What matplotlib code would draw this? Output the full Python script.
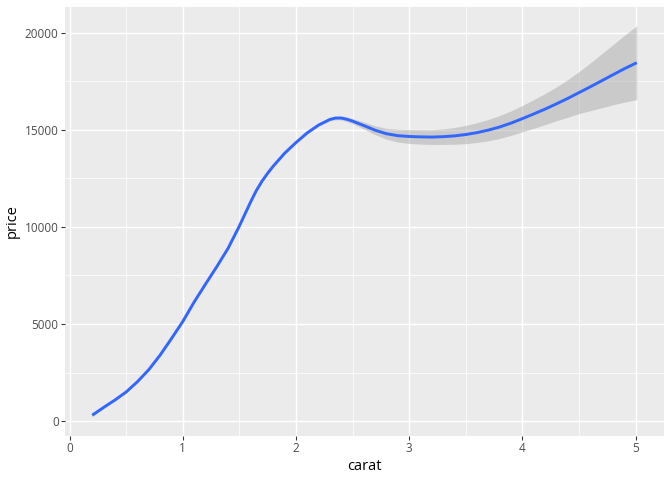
import matplotlib
matplotlib.use("Agg")
import matplotlib.pyplot as plt
from matplotlib.ticker import MultipleLocator

# smoothed price vs carat
carat = [0.2, 0.3, 0.4, 0.5, 0.6, 0.7, 0.8, 0.9, 1.0, 1.1, 1.2, 1.3, 1.4, 1.5,
         1.6, 1.65, 1.7, 1.75, 1.8, 1.9, 2.0, 2.1, 2.2, 2.3, 2.35, 2.4, 2.45,
         2.5, 2.6, 2.7, 2.8, 2.9,
         3.0, 3.1, 3.2, 3.3, 3.4, 3.5, 3.6, 3.7, 3.8, 3.9, 4.0, 4.1, 4.2, 4.3,
         4.4, 4.5, 4.6, 4.7, 4.8, 4.9, 5.01]
price = [300, 700, 1080, 1500, 2030, 2650, 3400, 4250, 5130, 6130, 7050, 7950,
         8900, 10050, 11300, 11880, 12360, 12770, 13140, 13800, 14350, 14850,
         15250, 15540, 15610, 15610, 15545, 15450, 15220, 14980, 14800, 14700,
         14660, 14640, 14630, 14650,
         14690, 14760, 14860, 14990, 15150, 15350, 15580, 15820, 16070, 16340,
         16620, 16920, 17220, 17530, 17840, 18150, 18460]
se_half = [60, 50, 45, 45, 45, 45, 45, 45, 45, 45, 45, 45, 45, 50,
           50, 52, 55, 55, 55, 55, 60, 60, 65, 80, 90, 100, 115, 130, 180, 230,
           280, 330,
           360, 375, 380, 400, 430, 470, 510, 550, 590, 630, 680, 740, 800, 870,
           970, 1080, 1230, 1390, 1550, 1720, 1900]

lower = [p - s for p, s in zip(price, se_half)]
upper = [p + s for p, s in zip(price, se_half)]

plt.rcParams['font.family'] = ['Open Sans', 'DejaVu Sans']

fig = plt.figure(figsize=(7, 5), dpi=96)
ax = fig.add_axes([65/672, 44/480, 599/672, 429/480])
ax.set_facecolor('#EBEBEB')
for s in ax.spines.values():
    s.set_visible(False)

ax.xaxis.set_major_locator(MultipleLocator(1))
ax.xaxis.set_minor_locator(MultipleLocator(0.5))
ax.yaxis.set_major_locator(MultipleLocator(5000))
ax.yaxis.set_minor_locator(MultipleLocator(2500))
ax.grid(True, which='major', color='white', lw=1.1)
ax.grid(True, which='minor', color='white', lw=0.55)
ax.set_axisbelow(True)

ax.fill_between(carat, lower, upper, color='#999999', alpha=0.4, lw=0)
ax.plot(carat, price, color='#3366FF', lw=2.2, solid_capstyle='butt',
        solid_joinstyle='round')

ax.set_xlim(-0.0405, 5.2505)
ax.set_ylim(-770, 21330)

ax.tick_params(which='major', length=2.75, width=0.8, color='#333333',
               labelcolor='#4D4D4D', labelsize=8.8, pad=2)
ax.tick_params(which='minor', length=0)
ax.set_xlabel('carat', fontsize=11, color='black', labelpad=3)
ax.set_ylabel('price', fontsize=11, color='black', labelpad=4)

fig.savefig('out.png', dpi=96)
